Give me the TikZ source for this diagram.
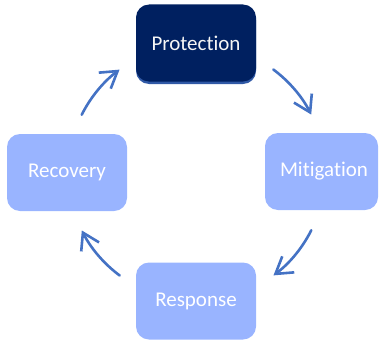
\documentclass[tikz,border=0pt]{standalone}
\usepackage{fontspec}
\setmainfont{Carlito}[Ligatures={NoCommon}]
\usetikzlibrary{arrows.meta,calc}
\definecolor{navybox}{HTML}{002060}
\definecolor{lightbox}{RGB}{153,180,255}
\definecolor{arrowblue}{HTML}{4472C4}
\begin{document}
\begin{tikzpicture}[x=1pt,y=1pt,
  box/.style={rounded corners=13pt, minimum width=120pt, minimum height=77pt, inner sep=0pt, font=\fontsize{21}{24}\selectfont, text=white},
  lbox/.style={box, fill=lightbox},
  cyc/.style={draw=arrowblue, line width=2.6pt, line cap=round, -{Straight Barb[length=16pt,width=20pt,line width=2.6pt]}}
]
\useasboundingbox (0,0) rectangle (379,341);
% Protection (navy with a lighter bottom edge)
\fill[rounded corners=13pt, color=arrowblue!70!navybox] (136,257) rectangle (256,334);
\node[box, fill=navybox, text=white!92!gray] (prot) at (196,298) {Protection};
% Others
\node[lbox, minimum width=113pt] (miti) at (321.5,169.5) {};
\node[font=\fontsize{21}{24}\selectfont, text=white] (mitit) at (324,169.5) {Mitigation};
\node[lbox] (resp) at (196,40) {Response};
\node[lbox] (reco) at (67,168.5) {Recovery};
% circle of arrows
\coordinate (c) at (196.5,168.5);
\coordinate (a1) at ($(c)+(153.3:128.5)$);
\coordinate (a2) at ($(c)+(53.3:128.5)$);
\coordinate (a3) at ($(c)+(-26.7:128.5)$);
\coordinate (a4) at ($(c)+(-126.7:128.5)$);
\draw[cyc] (a1) arc[start angle=153.3, end angle=126.8, radius=128.5];
\draw[cyc] (a2) arc[start angle=53.3, end angle=26.8, radius=128.5];
\draw[cyc] (a3) arc[start angle=-26.7, end angle=-53.2, radius=128.5];
\draw[cyc] (a4) arc[start angle=-126.7, end angle=-153.2, radius=128.5];
\end{tikzpicture}
\end{document}
